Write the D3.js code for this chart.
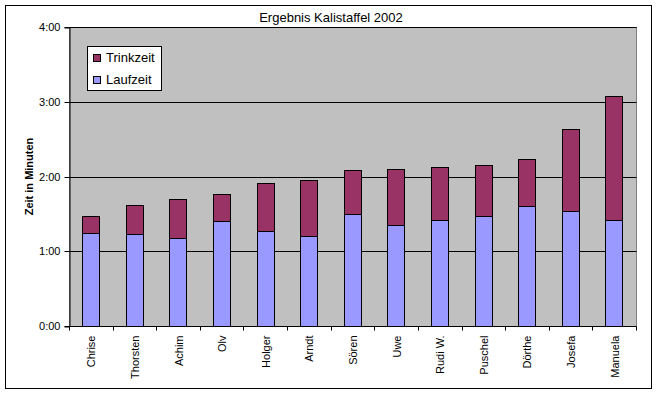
<!DOCTYPE html>
<html><head><meta charset="utf-8">
<script src="https://cdn.jsdelivr.net/npm/d3@7"></script>
<style>body{margin:0;background:#fff;}svg{display:block;font-family:Arial,"Liberation Sans",sans-serif;}</style>
</head><body>
<svg id="c" width="658" height="394"></svg>
<script>
const categories = ["Chrise","Thorsten","Achim","Olv","Holger","Arndt","Sören","Uwe","Rudi W.","Puschel","Dörthe","Josefa","Manuela"];
// seconds
const laufzeit = [75, 74, 71, 84, 76, 72, 90, 81, 85, 88, 96, 92, 85];
const trinkzeit = [13, 23, 31, 22, 39, 45, 35, 45, 43, 41, 38, 66, 100];
const yTicks = [0, 60, 120, 180, 240];
const seriesNames = ["Laufzeit", "Trinkzeit"];
const colors = {Laufzeit: "#9999FF", Trinkzeit: "#993366"};

const svg = d3.select("#c");
const L = 69.5, R = 636.5, T = 27.5, B = 326.5;
const px = v => Math.round(v - 0.5) + 0.5;

svg.append("rect").attr("x",5.5).attr("y",5.5).attr("width",646).attr("height",383)
  .attr("fill","#fff").attr("stroke","#000").attr("stroke-width",1);

svg.append("text").attr("x",331).attr("y",22).attr("text-anchor","middle")
  .attr("font-size","13px").text("Ergebnis Kalistaffel 2002");

svg.append("rect").attr("x",L).attr("y",T).attr("width",R-L).attr("height",B-T)
  .attr("fill","#C0C0C0").attr("stroke","#808080");

const y = d3.scaleLinear().domain([0,240]).range([B,T]);
const x = d3.scaleBand().domain(categories).range([L,R]).paddingInner(0.6).paddingOuter(0.3);

// gridlines
svg.append("g").selectAll("line").data(yTicks.slice(1)).join("line")
  .attr("x1",L).attr("x2",R).attr("y1",d=>px(y(d))).attr("y2",d=>px(y(d)))
  .attr("stroke","#000");

const fmt = s => Math.floor(s/60)+":"+String(s%60).padStart(2,"0");
const yAxis = d3.axisLeft(y).tickValues(yTicks).tickFormat(fmt).tickSize(5).tickPadding(4);
const gy = svg.append("g").attr("transform",`translate(${L},0)`).call(yAxis);
gy.select(".domain").attr("stroke","#000");
gy.selectAll(".tick").attr("transform",d=>`translate(0,${px(y(d))})`);
gy.selectAll("text").attr("font-size","11px").attr("font-family","Arial,'Liberation Sans',sans-serif").attr("fill","#000");

const stack = d3.stack().keys(seriesNames);
const rows = categories.map((c,i)=>({cat:c, Laufzeit:laufzeit[i], Trinkzeit:trinkzeit[i]}));
const layers = stack(rows);
const bw = Math.round(x.bandwidth());
svg.append("g").selectAll("g").data(layers).join("g")
  .attr("fill",d=>colors[d.key])
  .selectAll("rect").data(d=>d).join("rect")
  .attr("x",d=>px(x(d.data.cat))).attr("width",bw)
  .attr("y",d=>px(y(d[1]))).attr("height",d=>px(y(d[0]))-px(y(d[1])))
  .attr("stroke","#000").attr("stroke-width",1);

// x axis
const step = (R-L)/categories.length;
const gx = svg.append("g");
gx.append("line").attr("x1",L).attr("x2",R).attr("y1",B).attr("y2",B).attr("stroke","#000");
gx.selectAll("line.t").data(d3.range(categories.length+1)).join("line").attr("class","t")
  .attr("x1",i=>px(L+i*step)).attr("x2",i=>px(L+i*step)).attr("y1",B).attr("y2",B+4).attr("stroke","#000");
gx.selectAll("text").data(categories).join("text")
  .attr("transform",d=>`translate(${x(d)+x.bandwidth()/2+4},${B+9}) rotate(-90)`)
  .attr("text-anchor","end").attr("font-size","11px").text(d=>d);

svg.append("text").attr("transform","translate(33,176.5) rotate(-90)")
  .attr("text-anchor","middle").attr("font-size","11px").attr("font-weight","bold").text("Zeit in Minuten");

// legend
const lg = svg.append("g");
lg.append("rect").attr("x",87.5).attr("y",46.5).attr("width",74).attr("height",44).attr("fill","#fff").attr("stroke","#000");
["Trinkzeit","Laufzeit"].forEach((k,i)=>{
  lg.append("rect").attr("x",93.5).attr("y",54.5+i*22).attr("width",7).attr("height",7).attr("fill",colors[k]).attr("stroke","#000");
  lg.append("text").attr("x",106).attr("y",62+i*22).attr("font-size","13px").text(k);
});
</script>
</body></html>
